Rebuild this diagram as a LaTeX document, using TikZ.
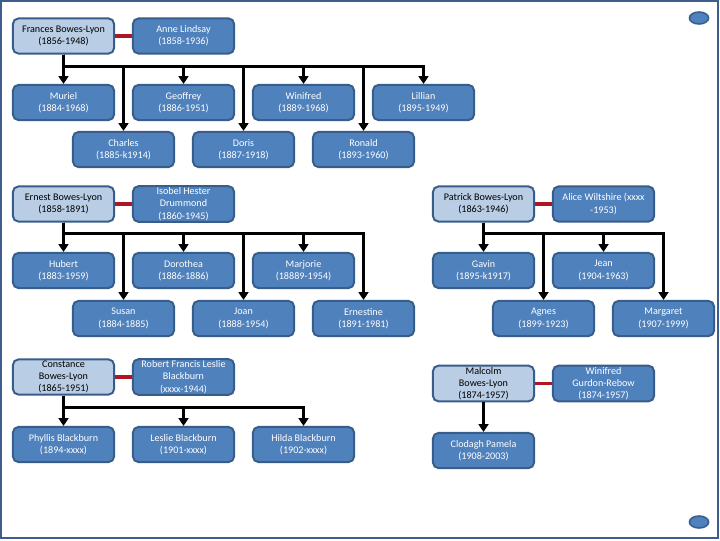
\documentclass[tikz,border=0pt]{standalone}
\usepackage{fontspec}
\setmainfont{Carlito}
\usepackage{xcolor}
\usepackage{tikz}
\usetikzlibrary{arrows.meta}
\definecolor{boxBlue}{RGB}{79,129,189}
\definecolor{boxEdge}{RGB}{56,93,138}
\definecolor{paleBlue}{RGB}{185,205,229}
\definecolor{wedRed}{RGB}{175,22,32}
\definecolor{frameBlue}{RGB}{62,92,140}

\begin{document}
\begin{tikzpicture}[x=0.025cm,y=-0.025cm,
  person/.style={draw=boxEdge,fill=boxBlue,text=white,line width=1.4pt,rounded corners=4pt,
    minimum width=2.53cm,minimum height=0.88cm,inner sep=1pt,align=center,
    font=\fontsize{7.2}{8.7}\selectfont},
  heir/.style={person,fill=paleBlue,text=black},
  wed/.style={wedRed,line width=2.2pt},
  kin/.style={black,line width=2pt,-{Triangle[width=7pt,length=5.5pt]}}]
\useasboundingbox (0,0) rectangle (720,540);
\fill[white] (0,0) rectangle (720,540);
\draw[frameBlue,line width=1.4pt] (1,1) rectangle (718,538);
\draw[boxEdge,fill=boxBlue,line width=1.1pt] (699,18) ellipse [x radius=0.24cm,y radius=0.15cm];
\draw[boxEdge,fill=boxBlue,line width=1.1pt] (699,522) ellipse [x radius=0.24cm,y radius=0.15cm];
% Frances and Anne
\node[heir] (frances) at (63.5,36) {Frances Bowes-Lyon\\(1856-1948)};
\node[person] (anne) at (183.5,36) {Anne Lindsay\\(1858-1936)};
\node[person] (muriel) at (63.5,102.5) {Muriel\\(1884-1968)};
\node[person] (geoffrey) at (183.5,102.5) {Geoffrey\\(1886-1951)};
\node[person] (winifred) at (303.5,102.5) {Winifred\\(1889-1968)};
\node[person] (lillian) at (423.5,102.5) {Lillian\\(1895-1949)};
\node[person] (charles) at (123.5,149.5) {Charles\\(1885-k1914)};
\node[person] (doris) at (243.5,149.5) {Doris\\(1887-1918)};
\node[person] (ronald) at (363.5,149.5) {Ronald\\(1893-1960)};
\draw[wed] (frances) -- (anne);
\draw[kin] (frances.south) -- ++(0,12) -| (muriel.north);
\draw[kin] (frances.south) -- ++(0,12) -| (charles.north);
\draw[kin] (frances.south) -- ++(0,12) -| (geoffrey.north);
\draw[kin] (frances.south) -- ++(0,12) -| (doris.north);
\draw[kin] (frances.south) -- ++(0,12) -| (winifred.north);
\draw[kin] (frances.south) -- ++(0,12) -| (ronald.north);
\draw[kin] (frances.south) -- ++(0,12) -| (lillian.north);
% Ernest and Isobel
\node[heir] (ernest) at (63.5,204) {Ernest Bowes-Lyon\\(1858-1891)};
\node[person] (isobel) at (183.5,204) {Isobel Hester\\Drummond\\(1860-1945)};
\node[person] (hubert) at (63.5,270.5) {Hubert\\(1883-1959)};
\node[person] (dorothea) at (183.5,270.5) {Dorothea\\(1886-1886)};
\node[person] (marjorie) at (303.5,270.5) {Marjorie\\(18889-1954)};
\node[person] (susan) at (123.5,318.5) {Susan\\(1884-1885)};
\node[person] (joan) at (243.5,318.5) {Joan\\(1888-1954)};
\node[person] (ernestine) at (363.5,318.5) {Ernestine\\(1891-1981)};
\draw[wed] (ernest) -- (isobel);
\draw[kin] (ernest.south) -- ++(0,11) -| (hubert.north);
\draw[kin] (ernest.south) -- ++(0,11) -| (susan.north);
\draw[kin] (ernest.south) -- ++(0,11) -| (dorothea.north);
\draw[kin] (ernest.south) -- ++(0,11) -| (joan.north);
\draw[kin] (ernest.south) -- ++(0,11) -| (marjorie.north);
\draw[kin] (ernest.south) -- ++(0,11) -| (ernestine.north);
% Patrick and Alice
\node[heir] (patrick) at (483.5,204) {Patrick Bowes-Lyon\\(1863-1946)};
\node[person] (alice) at (603.5,204) {Alice Wiltshire (xxxx\\-1953)};
\node[person] (gavin) at (483.5,270.5) {Gavin\\(1895-k1917)};
\node[person] (jean) at (603.5,270.5) {Jean\\(1904-1963)};
\node[person] (agnes) at (543.5,318.5) {Agnes\\(1899-1923)};
\node[person] (margaret) at (663.5,318.5) {Margaret\\(1907-1999)};
\draw[wed] (patrick) -- (alice);
\draw[kin] (patrick.south) -- ++(0,11) -| (gavin.north);
\draw[kin] (patrick.south) -- ++(0,11) -| (agnes.north);
\draw[kin] (patrick.south) -- ++(0,11) -| (jean.north);
\draw[kin] (patrick.south) -- ++(0,11) -| (margaret.north);
% Constance and Robert
\node[heir] (constance) at (63.5,377) {Constance\\Bowes-Lyon\\(1865-1951)};
\node[person] (robert) at (183.5,377) {Robert Francis Leslie\\Blackburn\\(xxxx-1944)};
\node[person] (phyllis) at (63.5,444.5) {Phyllis Blackburn\\(1894-xxxx)};
\node[person] (leslie) at (183.5,444.5) {Leslie Blackburn\\(1901-xxxx)};
\node[person] (hilda) at (303.5,444.5) {Hilda Blackburn\\(1902-xxxx)};
\draw[wed] (constance) -- (robert);
\draw[kin] (constance.south) -- ++(0,12) -| (phyllis.north);
\draw[kin] (constance.south) -- ++(0,12) -| (leslie.north);
\draw[kin] (constance.south) -- ++(0,12) -| (hilda.north);
% Malcolm and Winifred
\node[heir] (malcolm) at (483.5,383.5) {Malcolm\\Bowes-Lyon\\(1874-1957)};
\node[person] (gurdon) at (603.5,383.5) {Winifred\\Gurdon-Rebow\\(1874-1957)};
\node[person] (clodagh) at (483.5,450.5) {Clodagh Pamela\\(1908-2003)};
\draw[wed] (malcolm) -- (gurdon);
\draw[kin] (malcolm) -- (clodagh);
\end{tikzpicture}
\end{document}
